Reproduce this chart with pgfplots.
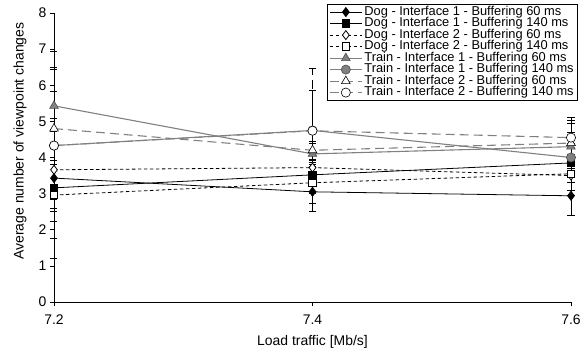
\documentclass[border=0pt]{standalone}
\usepackage{pgfplots}
\pgfplotsset{compat=1.18}
\usepackage{fontspec}
\setmainfont{Liberation Sans}
\definecolor{tgray}{RGB}{128,128,128}
\begin{document}
\begin{tikzpicture}
\begin{axis}[
  scale only axis, width=517bp, height=289bp,
  xmin=7.2, xmax=7.6, ymin=0, ymax=8,
  axis x line=bottom, axis y line=left,
  axis line style={-, black, line width=0.7pt},
  xtick={7.2,7.4,7.6}, ytick={0,1,...,8},
  tick align=outside, major tick length=4bp,
  tick style={black, line width=0.6pt},
  xticklabel style={yshift=-5bp, /pgf/number format/.cd, fixed, fixed zerofill, precision=1},
  /pgf/number format/assume math mode=true,
  ticklabel style={font=\fontsize{14}{14}\selectfont},
  xlabel={Load traffic [Mb/s]}, ylabel={Average number of viewpoint changes},
  label style={font=\fontsize{14}{14}\selectfont},
  xlabel style={at={(axis description cs:0.5,-0.1384)}, anchor=center},
  ylabel style={at={(axis description cs:-0.0658,0.557)}, anchor=center},
  clip=false,
  legend cell align=left,
  legend style={at={(1.0135,1.031)}, anchor=north east, draw=black, line width=0.6pt,
    font=\fontsize{12.9}{12.9}\selectfont, inner xsep=2bp, inner ysep=2bp, row sep=0bp, fill=white,
    nodes={text height=8.9bp, text depth=2.6bp, inner ysep=0bp, inner xsep=2bp}},
  legend image code/.code={\draw[mark repeat=2,mark phase=2] plot coordinates {(0bp,0bp) (16bp,0bp) (32bp,0bp)};},
  error bars/y dir=both, error bars/y explicit,
  error bars/error mark options={rotate=90, black, mark size=3.5bp, line width=0.6pt},
  error bars/error bar style={black, line width=0.6pt},
]
% Dog I1 60
\addplot[black, line width=0.8pt, mark=diamond*, mark size=4.5bp, mark options={solid, fill=black}]
 table[x=x, y=y, y error=e] {
x y e
7.2 3.43 1.66
7.4 3.05 0.53
7.6 2.94 0.53
};
% Dog I1 140
\addplot[black, line width=0.8pt, mark=square*, mark size=3.8bp, mark options={solid, fill=black}]
 table[x=x, y=y, y error=e] {
x y e
7.2 3.16 0.66
7.4 3.52 0.25
7.6 3.85 0.55
};
% Dog I2 60
\addplot[black, line width=0.8pt, dash pattern=on 3.5bp off 2.5bp, mark=diamond*, mark size=4.5bp, mark options={solid, fill=white}]
 table[x=x, y=y, y error=e] {
x y e
7.2 3.66 1.06
7.4 3.72 0.2
7.6 3.50 0.2
};
% Dog I2 140
\addplot[black, line width=0.8pt, dash pattern=on 3.5bp off 2.5bp, mark=square*, mark size=3.8bp, mark options={solid, fill=white}]
 table[x=x, y=y, y error=e] {
x y e
7.2 2.96 1.76
7.4 3.30 0.56
7.6 3.55 0.45
};
% Train I1 60
\addplot[tgray, line width=1.1pt, mark=triangle*, mark size=5bp, mark options={solid, draw=black!70, fill=tgray, line width=0.6pt}]
 table[x=x, y=y, y error=e] {
x y e
7.2 5.43 1.5
7.4 4.10 0.3
7.6 4.30 0.65
};
% Train I1 140
\addplot[tgray, line width=1.1pt, mark=*, mark size=4.6bp, mark options={solid, draw=black!70, fill=tgray, line width=0.6pt}]
 table[x=x, y=y, y error=e] {
x y e
7.2 4.33 1.5
7.4 4.75 1.12
7.6 4.00 1.04
};
% Train I2 60
\addplot[tgray, line width=1.1pt, dash pattern=on 9bp off 5bp, mark=triangle*, mark size=5bp, mark options={solid, draw=black, fill=white, line width=0.6pt}]
 table[x=x, y=y, y error=e] {
x y e
7.2 4.80 1.7
7.4 4.20 0.25
7.6 4.40 0.3
};
% Train I2 140
\addplot[tgray, line width=1.1pt, dash pattern=on 9bp off 5bp, mark=*, mark size=4.6bp, mark options={solid, draw=black, fill=white, line width=0.6pt}]
 table[x=x, y=y, y error=e] {
x y e
7.2 4.33 2.1
7.4 4.74 1.74
7.6 4.55 0.57
};
\legend{Dog - Interface 1 - Buffering 60 ms, Dog - Interface 1 - Buffering 140 ms,
Dog - Interface 2 - Buffering 60 ms, Dog - Interface 2 - Buffering 140 ms,
Train - Interface 1 - Buffering 60 ms, Train - Interface 1 - Buffering 140 ms,
Train - Interface 2 - Buffering 60 ms, Train - Interface 2 - Buffering 140 ms}
\end{axis}
\pgfresetboundingbox
\path[use as bounding box] (-54bp,-52bp) rectangle (530bp,302bp);
\end{tikzpicture}
\end{document}
